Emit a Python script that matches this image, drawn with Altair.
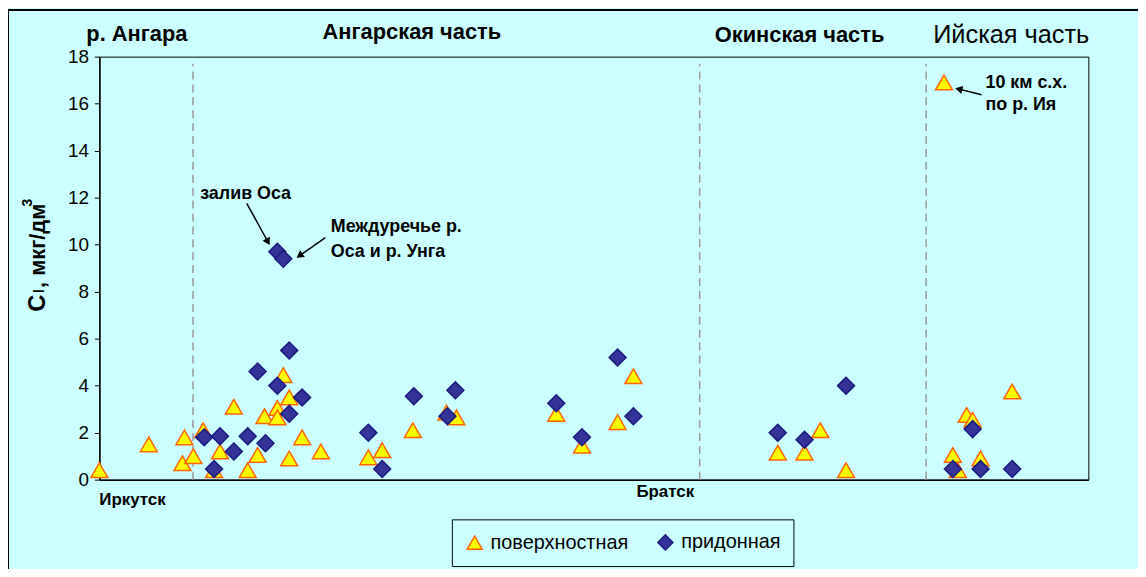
import math
import altair as alt
import pandas as pd

# ---------------- data ----------------
series_names = ["поверхностная", "придонная"]

surf_x = [0.0, 5.0, 8.6, 8.4, 9.5, 10.5, 11.6, 12.2, 13.6, 15.0, 16.0, 16.7, 18.0, 18.0,
          18.6, 19.2, 19.2, 20.5, 22.4, 27.2, 28.6, 31.7, 35.1, 36.1, 46.2, 48.8, 52.4,
          54.0, 68.6, 71.3, 72.9, 75.5, 85.4, 86.3, 86.8, 87.7, 88.3, 89.1, 92.3]
surf_y = [0.4, 1.5, 1.8, 0.7, 1.0, 2.1, 0.4, 1.2, 3.1, 0.4, 1.05, 2.7, 3.05, 2.65,
          4.45, 3.5, 0.9, 1.8, 1.2, 0.95, 1.25, 2.1, 2.85, 2.65, 2.8, 1.45, 2.45,
          4.4, 1.15, 1.15, 2.1, 0.4, 16.9, 1.05, 0.4, 2.75, 2.55, 0.9, 3.75]

bot_x = [10.6, 11.6, 12.2, 13.6, 15.0, 16.0, 16.8, 18.0, 19.2, 19.2, 20.5, 18.0, 18.6,
         27.2, 28.6, 31.8, 35.2, 36.0, 46.2, 48.8, 52.4, 54.0, 68.6, 71.3, 75.5,
         86.3, 88.3, 89.1, 92.3]
bot_y = [1.8, 0.45, 1.85, 1.2, 1.85, 4.6, 1.55, 4.0, 2.8, 5.5, 3.5, 9.7, 9.4,
         2.0, 0.45, 3.55, 2.7, 3.8, 3.25, 1.8, 5.2, 2.7, 2.0, 1.7, 4.0,
         0.45, 2.15, 0.45, 0.45]

y_ticks = [0, 2, 4, 6, 8, 10, 12, 14, 16, 18]

divider_x = [9.47, 60.7, 83.6]
divider_top = 17.7

section_titles = ["р. Ангара", "Ангарская часть", "Окинская часть"]
section_x = [3.8, 31.6, 70.8]
section_y = [18.97, 19.05, 18.92]
iya_title = ["Ийская часть"]
iya_x = [92.2]
iya_y = [18.92]

city_names = ["Иркутск", "Братск"]
city_x = [0.0, 54.3]
city_y = [-0.88, -0.52]

ann_text = ["залив Оса", "Междуречье р.", "Оса и р. Унга", "10 км с.х.", "по р. Ия"]
ann_x = [10.2, 23.4, 23.4, 89.6, 89.6]
ann_y = [12.15, 10.74, 9.69, 16.87, 15.96]

arrow_x1 = [14.9, 22.85, 89.2]
arrow_y1 = [11.76, 10.30, 16.38]
arrow_x2 = [17.24, 19.91, 86.51]
arrow_y2 = [9.97, 9.43, 16.66]

# ---------------- layout ----------------
W, H = 996, 426
XMAX, YMAX = 100, 18
PX_X = W / XMAX
PX_Y = H / YMAX
FONT = "Liberation Sans"
BG = "#CCFFFF"

xs = alt.Scale(domain=[0, XMAX], nice=False, zero=False)
ys = alt.Scale(domain=[0, YMAX], nice=False, zero=False)

points = pd.DataFrame({
    "x": surf_x + bot_x,
    "y": surf_y + bot_y,
    "series": [series_names[0]] * len(surf_x) + [series_names[1]] * len(bot_x),
})

legend = alt.Legend(
    orient="none", legendX=355, legendY=466, direction="horizontal", columns=2,
    title=None, labelFont=FONT, labelFontSize=20, labelColor="black",
    symbolSize=230, symbolStrokeWidth=1.5, strokeColor="black", fillColor=BG,
    padding=13, columnPadding=26, labelOffset=6, labelLimit=300,
)

pts = alt.Chart(points).mark_point(filled=True, size=290, strokeWidth=1.5, opacity=1).encode(
    x=alt.X("x:Q", scale=xs, axis=alt.Axis(title=None, labels=False, ticks=False, grid=False,
                                           domainColor="black", domainWidth=1.5)),
    y=alt.Y("y:Q", scale=ys, axis=alt.Axis(title=None, values=y_ticks, grid=False,
                                           labelFont=FONT, labelFontSize=19, labelColor="black",
                                           tickColor="black", tickSize=5, labelPadding=6,
                                           domainColor="black", domainWidth=1.5)),
    shape=alt.Shape("series:N", scale=alt.Scale(domain=series_names, range=["triangle-up", "diamond"]),
                    legend=legend),
    fill=alt.Fill("series:N", scale=alt.Scale(domain=series_names, range=["#FFFF00", "#333399"]),
                  legend=legend),
    stroke=alt.Stroke("series:N", scale=alt.Scale(domain=series_names, range=["#FF6600", "#1A1A80"]),
                      legend=legend),
    order=alt.Order("idx:Q"),
).transform_window(idx="row_number()")

div_df = pd.DataFrame({"x": divider_x, "y0": [0] * len(divider_x), "y1": [divider_top] * len(divider_x)})
dividers = alt.Chart(div_df).mark_rule(color="#999999", strokeDash=[8, 5], strokeWidth=1.5).encode(
    x=alt.X("x:Q", scale=xs), y=alt.Y("y0:Q", scale=ys), y2="y1:Q")

titles = alt.Chart(pd.DataFrame({"t": section_titles, "x": section_x, "y": section_y})).mark_text(
    font=FONT, fontSize=22, fontWeight="bold", color="black", align="center", baseline="middle").encode(
    x=alt.X("x:Q", scale=xs), y=alt.Y("y:Q", scale=ys), text="t:N")
titles2 = alt.Chart(pd.DataFrame({"t": iya_title, "x": iya_x, "y": iya_y})).mark_text(
    font=FONT, fontSize=25.5, color="black", align="center", baseline="middle").encode(
    x=alt.X("x:Q", scale=xs), y=alt.Y("y:Q", scale=ys), text="t:N")

cities = alt.Chart(pd.DataFrame({"t": city_names, "x": city_x, "y": city_y})).mark_text(
    font=FONT, fontSize=17, fontWeight="bold", color="black", align="left", baseline="middle").encode(
    x=alt.X("x:Q", scale=xs), y=alt.Y("y:Q", scale=ys), text="t:N")

anns = alt.Chart(pd.DataFrame({"t": ann_text, "x": ann_x, "y": ann_y})).mark_text(
    font=FONT, fontSize=18, fontWeight="bold", color="black", align="left", baseline="middle").encode(
    x=alt.X("x:Q", scale=xs), y=alt.Y("y:Q", scale=ys), text="t:N")

# arrows
arr_rows = []
head_rows = []
for x1, y1, x2, y2 in zip(arrow_x1, arrow_y1, arrow_x2, arrow_y2):
    dxp = (x2 - x1) * PX_X
    dyp = -(y2 - y1) * PX_Y
    L = math.hypot(dxp, dyp)
    ux, uy = dxp / L, dyp / L
    ang = math.degrees(math.atan2(dxp, -dyp)) % 360
    back = 4.0
    hx = x2 - ux * back / PX_X
    hy = y2 + uy * back / PX_Y
    arr_rows.append({"x1": x1, "y1": y1, "x2": x2 - ux * 3 / PX_X, "y2": y2 + uy * 3 / PX_Y})
    head_rows.append({"x": hx, "y": hy, "a": ang})

arrows = alt.Chart(pd.DataFrame(arr_rows)).mark_rule(color="black", strokeWidth=1.5).encode(
    x=alt.X("x1:Q", scale=xs), y=alt.Y("y1:Q", scale=ys), x2="x2:Q", y2="y2:Q")
heads = alt.Chart(pd.DataFrame(head_rows)).mark_point(
    shape="triangle-up", filled=True, size=70, color="black", opacity=1).encode(
    x=alt.X("x:Q", scale=xs), y=alt.Y("y:Q", scale=ys), angle=alt.Angle("a:Q", scale=None))

# y-axis title pieces (rotated)
ylab_c = alt.Chart(pd.DataFrame({"t": ["C"]})).mark_text(
    font=FONT, fontSize=24, fontWeight="bold", color="black", angle=270, align="left",
    baseline="alphabetic").encode(x=alt.value(-55), y=alt.value(257), text="t:N")
ylab_l = alt.Chart(pd.DataFrame({"t": ["l"]})).mark_text(
    font=FONT, fontSize=14, fontWeight="bold", color="black", angle=270, align="left",
    baseline="alphabetic").encode(x=alt.value(-56), y=alt.value(238), text="t:N")
ylab_m = alt.Chart(pd.DataFrame({"t": [", мкг/дм"]})).mark_text(
    font=FONT, fontSize=22, fontWeight="bold", color="black", angle=270, align="left",
    baseline="alphabetic").encode(x=alt.value(-55), y=alt.value(233), text="t:N")
ylab_3 = alt.Chart(pd.DataFrame({"t": ["3"]})).mark_text(
    font=FONT, fontSize=14, fontWeight="bold", color="black", angle=270, align="left",
    baseline="alphabetic").encode(x=alt.value(-68), y=alt.value(151), text="t:N")

# outer chart border (left & top edges)
border_v = alt.Chart(pd.DataFrame({"k": [0]})).mark_rule(color="black", strokeWidth=2).encode(
    x=alt.value(-92), y=alt.value(-47), y2=alt.value(520))
border_h = alt.Chart(pd.DataFrame({"k": [0]})).mark_rule(color="black", strokeWidth=2).encode(
    x=alt.value(-92), x2=alt.value(1046), y=alt.value(-47))

chart = alt.layer(
    dividers, arrows, heads, pts, titles, titles2, cities, anns,
    ylab_c, ylab_l, ylab_m, ylab_3, border_v, border_h,
).properties(
    width=W, height=H,
    padding={"left": 92, "top": 47, "right": 50, "bottom": 88},
    autosize=alt.AutoSizeParams(type="none"),
    background=BG,
).configure_view(
    stroke="black", strokeWidth=1, fill=BG,
)

chart.save("out.html", embed_options={"renderer": "svg", "actions": False})
